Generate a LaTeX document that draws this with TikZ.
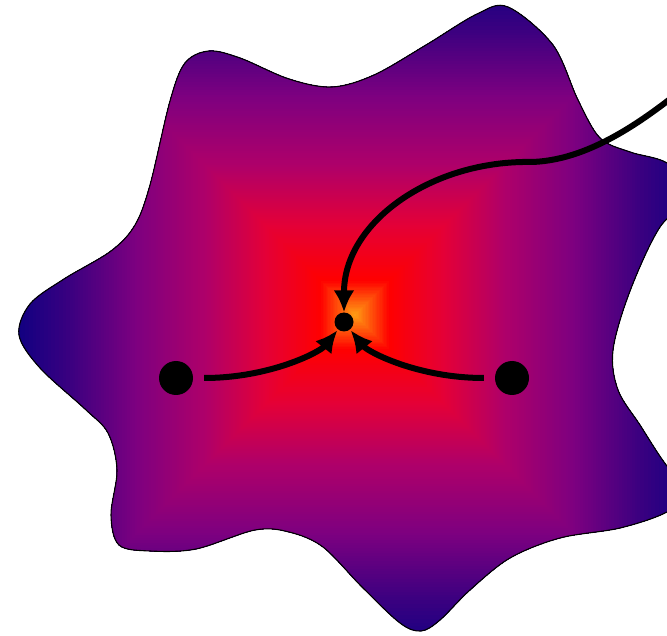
\documentclass[tikz,border=0pt]{standalone}
\usetikzlibrary{arrows.meta}
\definecolor{cA}{RGB}{255,160,20}
\definecolor{cB}{RGB}{255,0,0}
\definecolor{cC}{RGB}{228,0,55}
\definecolor{cD}{RGB}{175,0,105}
\definecolor{cE}{RGB}{125,0,128}
\definecolor{cF}{RGB}{60,0,128}
\definecolor{cG}{RGB}{0,0,130}
\newcommand\mysegfill[5]{%
  \foreach \k in {0,...,#5}{%
    \pgfmathsetmacro\dd{#1-(#1-#2)*\k/#5}%
    \pgfmathsetmacro\pp{100*\k/#5}%
    \fill[#4!\pp!#3] (355-\dd,315-\dd) rectangle (355+\dd,315+\dd);
  }}
\tikzset{
  bigdot/.style={circle,fill=black,inner sep=0pt,minimum size=34pt},
  smalldot/.style={circle,fill=black,inner sep=0pt,minimum size=19pt},
  arr/.style={line width=6pt,-{Latex[length=22pt,width=21pt]}},
  blobline/.style={line width=1.1pt,black}
}
\begin{document}
\begin{tikzpicture}[x=1pt,y=-1pt]
\useasboundingbox (0,0) rectangle (667,636);
\def\blob{plot[smooth cycle,tension=0.55] coordinates {
 (508,7) (553,45) (578,100) (600,138) (630,152) (667,163) (695,192) (660,227)
 (630,291) (613,350) (618,390) (640,425) (667,466) (692,490) (667,512)
 (620,528) (560,538) (510,558) (470,590) (440,620) (421,631) (400,623)
 (362,587) (323,547) (289,532) (255,530) (196,549) (150,551) (119,545)
 (111,515) (117,470) (108,433) (85,409) (40,368) (19,335) (30,304) (64,279)
 (111,251) (135,225) (150,185) (170,101) (185,63) (209,51) (240,58) (289,79)
 (332,87) (374,75) (426,45) (477,14)}}
\begin{scope}
  \clip \blob;
  \mysegfill{360}{285}{cG}{cF}{20}
  \mysegfill{285}{220}{cF}{cE}{25}
  \mysegfill{220}{150}{cE}{cD}{30}
  \mysegfill{150}{90}{cD}{cC}{30}
  \mysegfill{90}{35}{cC}{cB}{25}
  \mysegfill{35}{0}{cB}{cA}{25}
\end{scope}
\draw[blobline] \blob;
\node[bigdot] (L) at (176,378) {};
\node[bigdot] (R) at (512,378) {};
\node[smalldot] (C) at (344,322) {};
\coordinate (S) at (700,75);
\coordinate (K) at (532,162);
\draw[arr,shorten <=11pt,shorten >=1pt] (L) .. controls (270,378) and (320,352) .. (C);
\draw[arr,shorten <=11pt,shorten >=1pt] (R) .. controls (418,378) and (368,352) .. (C);
\draw[arr] (S) .. controls (655,112) and (595,160) .. (K) .. controls (432,160) and (344,222) .. (C);
\end{tikzpicture}
\end{document}
